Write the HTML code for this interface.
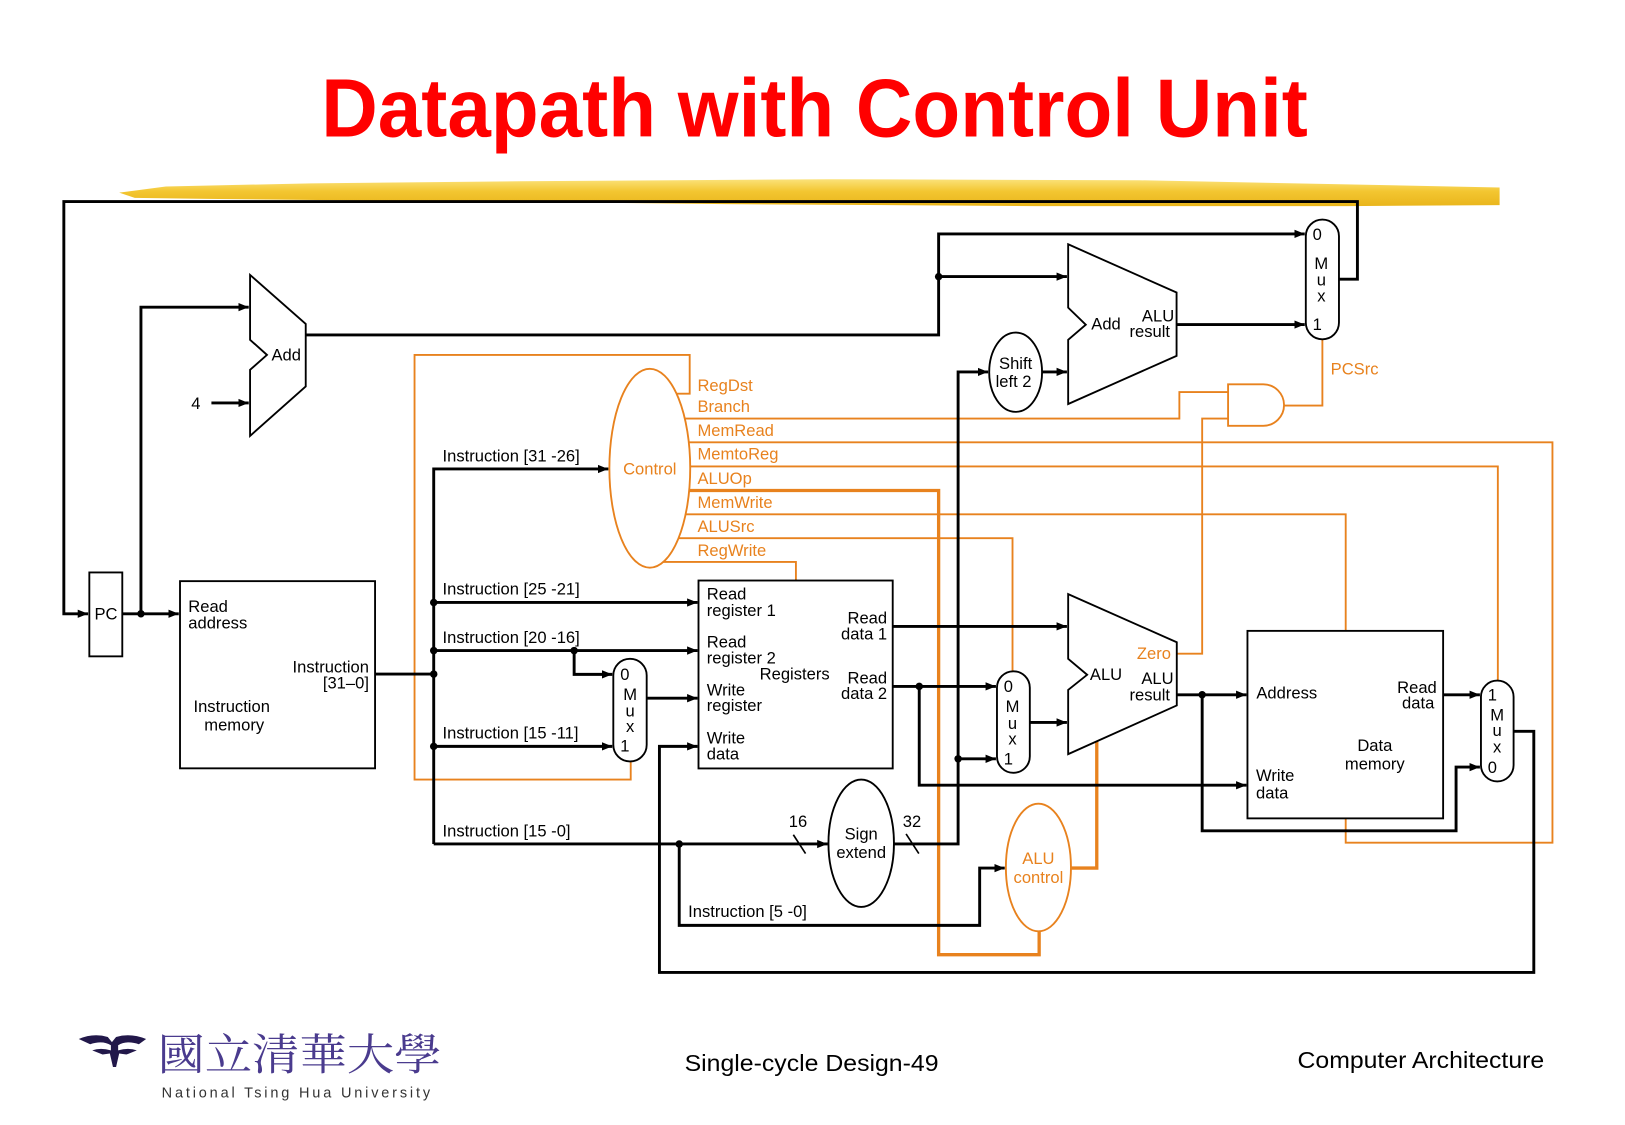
<!DOCTYPE html>
<html><head><meta charset="utf-8"><style>
html,body{margin:0;padding:0;background:#fff;}
svg{display:block;}
text{font-family:"Liberation Sans",Arial,sans-serif;}
</style></head><body>
<svg width="1625" height="1125" viewBox="0 0 1568 1086" preserveAspectRatio="none" xmlns="http://www.w3.org/2000/svg">
<defs>
<marker id="a" markerUnits="userSpaceOnUse" markerWidth="11" markerHeight="9" refX="10" refY="4.5" orient="auto"><path d="M0,0.5 L10,4.5 L0,8.5 z" fill="#000"/></marker>
<linearGradient id="y" x1="0" y1="0" x2="0" y2="1"><stop offset="0" stop-color="#fbe27a"/><stop offset="0.45" stop-color="#f3c631"/><stop offset="1" stop-color="#e9b51c"/></linearGradient>
</defs>

<!-- title -->
<text x="310" y="132" font-size="80" font-weight="bold" fill="#ff0000" textLength="952" lengthAdjust="spacingAndGlyphs">Datapath with Control Unit</text>
<!-- yellow brush stroke -->
<path d="M115,186 L160,180 L300,177 L500,175 L800,173 L1100,174 L1300,178 L1447,181 L1447,198 L1300,199 L1000,199 L700,197 L400,194 L200,192 L130,191 Z" fill="url(#y)"/>

<g fill="none" stroke="#e8821e" stroke-width="1.8">
<ellipse cx="627" cy="452" rx="39" ry="96"/>
<polyline points="653,380 665.5,380 665.5,342.6 400,342.6 400,752.5 608.6,752.5 608.6,735"/>
<polyline points="661,404 1138,404 1138,378.5 1185,378.5"/>
<polyline points="665,427 1498,427 1498,813.5 1298.5,813.5 1298.5,790"/>
<polyline points="666,450.3 1445.3,450.3 1445.3,657"/>
<polyline points="662,496.5 1298.5,496.5 1298.5,609"/>
<polyline points="655,519.5 977,519.5 977,648"/>
<polyline points="640,542.5 768,542.5 768,560"/>
<polyline points="1135.5,631 1160,631 1160,404 1185,404"/>
<polyline points="1276,327.5 1276,391.5 1239,391.5"/>
<path d="M1185,371 L1219,371 A20,20 0 0 1 1219,411 L1185,411 Z"/>
<ellipse cx="1002" cy="837.4" rx="31.4" ry="61.6"/>
</g>
<g fill="none" stroke="#e8821e" stroke-width="3.2">
<polyline points="665,473.5 905.7,473.5 905.7,921.6 1002.7,921.6 1002.7,899"/>
<polyline points="1033.4,838 1058.3,838 1058.3,715.7"/>
</g>

<g fill="none" stroke="#000" stroke-width="1.8">
<polygon points="241.3,265.4 295,312.7 295,373 241.3,420.8 241.3,357 257.6,342.6 241.3,328"/>
<polygon points="1030.7,235.8 1135.3,282.4 1135.3,343.5 1030.7,390 1030.7,328 1047.7,313.5 1030.7,297"/>
<polygon points="1030.7,573.5 1135.5,620 1135.5,681 1030.7,728 1030.7,666 1049,651.4 1030.7,636"/>
<rect x="86.2" y="552.6" width="31.8" height="81"/>
<rect x="173.7" y="561" width="188.2" height="180.7"/>
<rect x="674" y="560.4" width="187.4" height="181.4"/>
<rect x="1203.7" y="609" width="188.8" height="181"/>
<rect x="591.8" y="636" width="32.2" height="99" rx="16" ry="16"/>
<rect x="1260" y="212" width="32" height="115.5" rx="16" ry="16"/>
<rect x="962" y="648" width="31.7" height="98" rx="15.8" ry="15.8"/>
<rect x="1429" y="657" width="31.5" height="97.3" rx="15.7" ry="15.7"/>
<ellipse cx="980" cy="359.3" rx="25.5" ry="38.3"/>
<ellipse cx="831" cy="814" rx="31.6" ry="61.5"/>
</g>

<g fill="none" stroke="#000" stroke-width="2.8">
<polyline points="1292,269.5 1309.8,269.5 1309.8,194.6 61.6,194.6 61.6,592.5 85,592.5" marker-end="url(#a)"/>
<polyline points="118,592.5 172.5,592.5" marker-end="url(#a)"/>
<polyline points="136,592.5 136,296.5 240,296.5" marker-end="url(#a)"/>
<polyline points="204,389 240,389" marker-end="url(#a)"/>
<polyline points="295,323.3 905.7,323.3 905.7,225.8 1259,225.8" marker-end="url(#a)"/>
<polyline points="905.7,267 1029.5,267" marker-end="url(#a)"/>
<polyline points="1135.3,313.3 1259,313.3" marker-end="url(#a)"/>
<polyline points="862.7,814.7 924.5,814.7 924.5,359 953.5,359" marker-end="url(#a)"/>
<polyline points="1005.6,359 1029.5,359" marker-end="url(#a)"/>
<polyline points="924.5,732.5 961,732.5" marker-end="url(#a)"/>
<polyline points="361.9,650.7 418.5,650.7"/>
<polyline points="418.5,814.7 418.5,452.7 587,452.7" marker-end="url(#a)"/>
<polyline points="418.5,581.6 673,581.6" marker-end="url(#a)"/>
<polyline points="418.5,628 673,628" marker-end="url(#a)"/>
<polyline points="554,628 554,651 590.8,651" marker-end="url(#a)"/>
<polyline points="418.5,720.5 590.8,720.5" marker-end="url(#a)"/>
<polyline points="418.5,814.7 798.5,814.7" marker-end="url(#a)"/>
<polyline points="624,674 673,674" marker-end="url(#a)"/>
<polyline points="861.4,604.7 1029.5,604.7" marker-end="url(#a)"/>
<polyline points="861.4,662.6 961,662.6" marker-end="url(#a)"/>
<polyline points="887,662.6 887,758 1202.7,758" marker-end="url(#a)"/>
<polyline points="993.7,697.4 1029.5,697.4" marker-end="url(#a)"/>
<polyline points="1135.5,670.7 1202.7,670.7" marker-end="url(#a)"/>
<polyline points="1160,670.7 1160,802 1405,802 1405,740.5 1428,740.5" marker-end="url(#a)"/>
<polyline points="1392.5,670.7 1428,670.7" marker-end="url(#a)"/>
<polyline points="1460.5,706 1480,706 1480,938.7 636.3,938.7 636.3,720.5 673,720.5" marker-end="url(#a)"/>
<polyline points="655.4,814.7 655.4,893.3 945.3,893.3 945.3,838 969.5,838" marker-end="url(#a)"/>
</g>
<g stroke="#000" stroke-width="1.6">
<line x1="765.5" y1="805.8" x2="777.3" y2="824"/>
<line x1="874.3" y1="805" x2="886.6" y2="824"/>
</g>
<g fill="#000">
<circle cx="136" cy="592.5" r="3.6"/>
<circle cx="905.7" cy="267" r="3.6"/>
<circle cx="418.5" cy="581.6" r="3.6"/>
<circle cx="418.5" cy="628" r="3.6"/>
<circle cx="418.5" cy="650.7" r="3.6"/>
<circle cx="418.5" cy="720.5" r="3.6"/>
<circle cx="554" cy="628" r="3.6"/>
<circle cx="655.4" cy="814.7" r="3.6"/>
<circle cx="887" cy="662.6" r="3.6"/>
<circle cx="924.5" cy="732.5" r="3.6"/>
<circle cx="1160" cy="670.7" r="3.6"/>
</g>

<g font-size="16" fill="#000">
<text x="102.3" y="598" text-anchor="middle">PC</text>
<text x="189" y="395" text-anchor="middle">4</text>
<text x="262" y="348">Add</text>
<text x="181.7" y="591">Read</text>
<text x="181.7" y="606.5">address</text>
<text x="356" y="649" text-anchor="end">Instruction</text>
<text x="356" y="664.5" text-anchor="end">[31–0]</text>
<text x="223.6" y="687.5" text-anchor="middle">Instruction</text>
<text x="226" y="705" text-anchor="middle">memory</text>
<text x="427" y="445.5">Instruction [31 -26]</text>
<text x="427" y="574">Instruction [25 -21]</text>
<text x="427" y="620.5">Instruction [20 -16]</text>
<text x="427" y="713">Instruction [15 -11]</text>
<text x="427" y="807.3">Instruction [15 -0]</text>
<text x="664" y="885">Instruction [5 -0]</text>
<text x="682" y="578.5">Read</text>
<text x="682" y="594.5">register 1</text>
<text x="682" y="625">Read</text>
<text x="682" y="640.5">register 2</text>
<text x="733" y="656">Registers</text>
<text x="682" y="671.5">Write</text>
<text x="682" y="686.5">register</text>
<text x="682" y="717.5">Write</text>
<text x="682" y="733">data</text>
<text x="856" y="602" text-anchor="end">Read</text>
<text x="856" y="617.5" text-anchor="end">data 1</text>
<text x="856" y="660" text-anchor="end">Read</text>
<text x="856" y="675" text-anchor="end">data 2</text>
<text x="770" y="798.5" text-anchor="middle">16</text>
<text x="880" y="798.5" text-anchor="middle">32</text>
<text x="831" y="810.5" text-anchor="middle">Sign</text>
<text x="831" y="828.3" text-anchor="middle">extend</text>
<text x="980" y="356" text-anchor="middle">Shift</text>
<text x="978" y="373.8" text-anchor="middle">left 2</text>
<text x="1053" y="318">Add</text>
<text x="1133" y="310.5" text-anchor="end">ALU</text>
<text x="1129" y="325.5" text-anchor="end">result</text>
<text x="1051.7" y="656.5">ALU</text>
<text x="1132.4" y="660.5" text-anchor="end">ALU</text>
<text x="1129" y="676" text-anchor="end">result</text>
<text x="1212.3" y="674.5">Address</text>
<text x="1386.4" y="669" text-anchor="end">Read</text>
<text x="1384" y="684" text-anchor="end">data</text>
<text x="1326.6" y="725" text-anchor="middle">Data</text>
<text x="1326.6" y="743" text-anchor="middle">memory</text>
<text x="1212" y="754">Write</text>
<text x="1212" y="771">data</text>
<text x="1271" y="231.5" text-anchor="middle">0</text>
<text x="1275" y="259.5" text-anchor="middle">M</text>
<text x="1275" y="275.5" text-anchor="middle">u</text>
<text x="1275" y="291" text-anchor="middle">x</text>
<text x="1271" y="318.5" text-anchor="middle">1</text>
<text x="603" y="656.5" text-anchor="middle">0</text>
<text x="608" y="675.5" text-anchor="middle">M</text>
<text x="608" y="691.5" text-anchor="middle">u</text>
<text x="608" y="706.5" text-anchor="middle">x</text>
<text x="603" y="725.5" text-anchor="middle">1</text>
<text x="973" y="668" text-anchor="middle">0</text>
<text x="977" y="687.5" text-anchor="middle">M</text>
<text x="977" y="703.5" text-anchor="middle">u</text>
<text x="977" y="718.5" text-anchor="middle">x</text>
<text x="973" y="738" text-anchor="middle">1</text>
<text x="1440" y="676.2" text-anchor="middle">1</text>
<text x="1444.6" y="695.5" text-anchor="middle">M</text>
<text x="1444.6" y="710.5" text-anchor="middle">u</text>
<text x="1444.6" y="726.5" text-anchor="middle">x</text>
<text x="1440" y="746" text-anchor="middle">0</text>
</g>

<g font-size="16" fill="#e8821e">
<text x="627" y="458.3" text-anchor="middle">Control</text>
<text x="673" y="377.3">RegDst</text>
<text x="673" y="397.8">Branch</text>
<text x="673" y="420.8">MemRead</text>
<text x="673" y="443.8">MemtoReg</text>
<text x="673" y="467.3">ALUOp</text>
<text x="673" y="490.5">MemWrite</text>
<text x="673" y="513.6">ALUSrc</text>
<text x="673" y="536.8">RegWrite</text>
<text x="1284" y="361.5">PCSrc</text>
<text x="1097" y="636">Zero</text>
<text x="1002" y="834" text-anchor="middle">ALU</text>
<text x="1002" y="852.3" text-anchor="middle">control</text>
</g>

<g fill="#22184a">
<path d="M76,1003 Q90,997 104,1001 L108,1006 L112,1001 Q126,997 141,1003 L134,1008 Q122,1004 114,1009 L114,1014 Q124,1011 132,1014 L122,1018 L115,1017 L112,1030 L109,1030 L106,1017 L99,1018 L89,1014 Q97,1011 107,1014 L107,1009 Q99,1004 87,1008 Z"/>
</g>
<text x="152" y="1033" font-size="42" fill="#4a3b8e" textLength="274" lengthAdjust="spacingAndGlyphs" style="font-family:'Noto Serif CJK SC','Noto Sans CJK TC',serif;">國立清華大學</text>
<text x="156" y="1059.5" font-size="14" fill="#333" textLength="259" lengthAdjust="spacing">National Tsing Hua University</text>
<text x="660.6" y="1034" font-size="22.5" fill="#000" textLength="245" lengthAdjust="spacingAndGlyphs">Single-cycle Design-49</text>
<text x="1252" y="1031" font-size="22.5" fill="#000" textLength="238" lengthAdjust="spacingAndGlyphs">Computer Architecture</text>
</svg>
</body></html>
